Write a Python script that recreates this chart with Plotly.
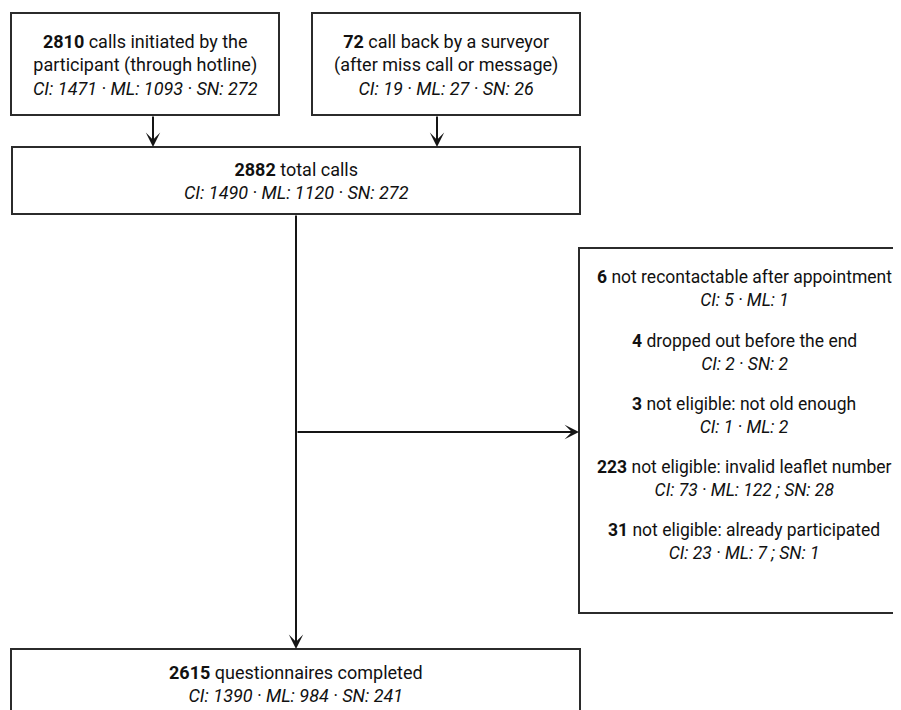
import plotly.graph_objects as go

# ---- data ----
source_counts = [2810, 72]
source_labels = ["calls initiated by the<br>participant (through hotline)",
                 "call back by a surveyor<br>(after miss call or message)"]
source_breakdown = ["CI: 1471 · ML: 1093 · SN: 272", "CI: 19 · ML: 27 · SN: 26"]

total_count = 2882
total_label = "total calls"
total_breakdown = "CI: 1490 · ML: 1120 · SN: 272"

excluded_counts = [6, 4, 3, 223, 31]
excluded_labels = ["not recontactable after appointment",
                   "dropped out before the end",
                   "not eligible: not old enough",
                   "not eligible: invalid leaflet number",
                   "not eligible: already participated"]
excluded_breakdown = ["CI: 5 · ML: 1", "CI: 2 · SN: 2", "CI: 1 · ML: 2",
                      "CI: 73 · ML: 122 ; SN: 28", "CI: 23 · ML: 7 ; SN: 1"]

completed_count = 2615
completed_label = "questionnaires completed"
completed_breakdown = "CI: 1390 · ML: 984 · SN: 241"

# ---- layout geometry (pixels; page body has an 8px offset) ----
OFF = 8
W, H = 901, 710 - OFF
LINE = "#2b2b2b"
TXT = "#111111"
FONT = "Roboto"

fig = go.Figure()

def box(x0, y0, x1, y1):
    fig.add_shape(type="rect", x0=x0, y0=y0, x1=x1, y1=y1, xref="x", yref="y",
                  line=dict(color=LINE, width=2), fillcolor="white", layer="below")

def label(x, y, txt, size=18):
    fig.add_annotation(x=x, y=y, xref="x", yref="y", text=txt, showarrow=False,
                       xanchor="center", yanchor="middle", align="center",
                       font=dict(family=FONT, size=size, color=TXT))

def arrow(x0, y0, x1, y1):
    fig.add_annotation(x=x1, y=y1, ax=x0, ay=y0, xref="x", yref="y", axref="x", ayref="y",
                       text="", showarrow=True, arrowhead=3, arrowsize=1.2,
                       arrowwidth=2, arrowcolor="#151515", standoff=0)

def fmt(n, lab, brk):
    return f"<b>{n}</b> {lab}<br><i>{brk}</i>"

# source boxes
src_boxes = [(11, 13, 279, 115), (312, 13, 580, 115)]
src_arrow_x = [153, 437]
for (x0, y0, x1, y1), n, lab, brk, ax_ in zip(src_boxes, source_counts, source_labels,
                                              source_breakdown, src_arrow_x):
    box(x0, y0, x1, y1)
    label((x0 + x1) / 2, (y0 + y1) / 2 + 1, fmt(n, lab, brk))
    arrow(ax_, y1, ax_, 147)

# total box
box(12, 147, 580, 214)
label(296, 181, fmt(total_count, total_label, total_breakdown))

# vertical trunk & arrows
arrow(296, 214, 296, 649)
arrow(296, 432, 579, 432)

# exclusion box
box(579, 248, 916, 613)
ex_y = [288.5, 352, 415, 478.5, 541.5]
for y, n, lab, brk in zip(ex_y, excluded_counts, excluded_labels, excluded_breakdown):
    label(744, y, fmt(n, lab, brk), size=17.5)

# completed box
box(11, 649, 580, 740)
label(296, 683.5, fmt(completed_count, completed_label, completed_breakdown))

fig.update_layout(
    width=W, height=H, margin=dict(l=0, r=0, t=0, b=0),
    paper_bgcolor="white", plot_bgcolor="white", showlegend=False,
    xaxis=dict(range=[OFF, W + OFF], visible=False, fixedrange=True),
    yaxis=dict(range=[H + OFF, OFF], visible=False, fixedrange=True),
)
fig.write_html("out.html")
